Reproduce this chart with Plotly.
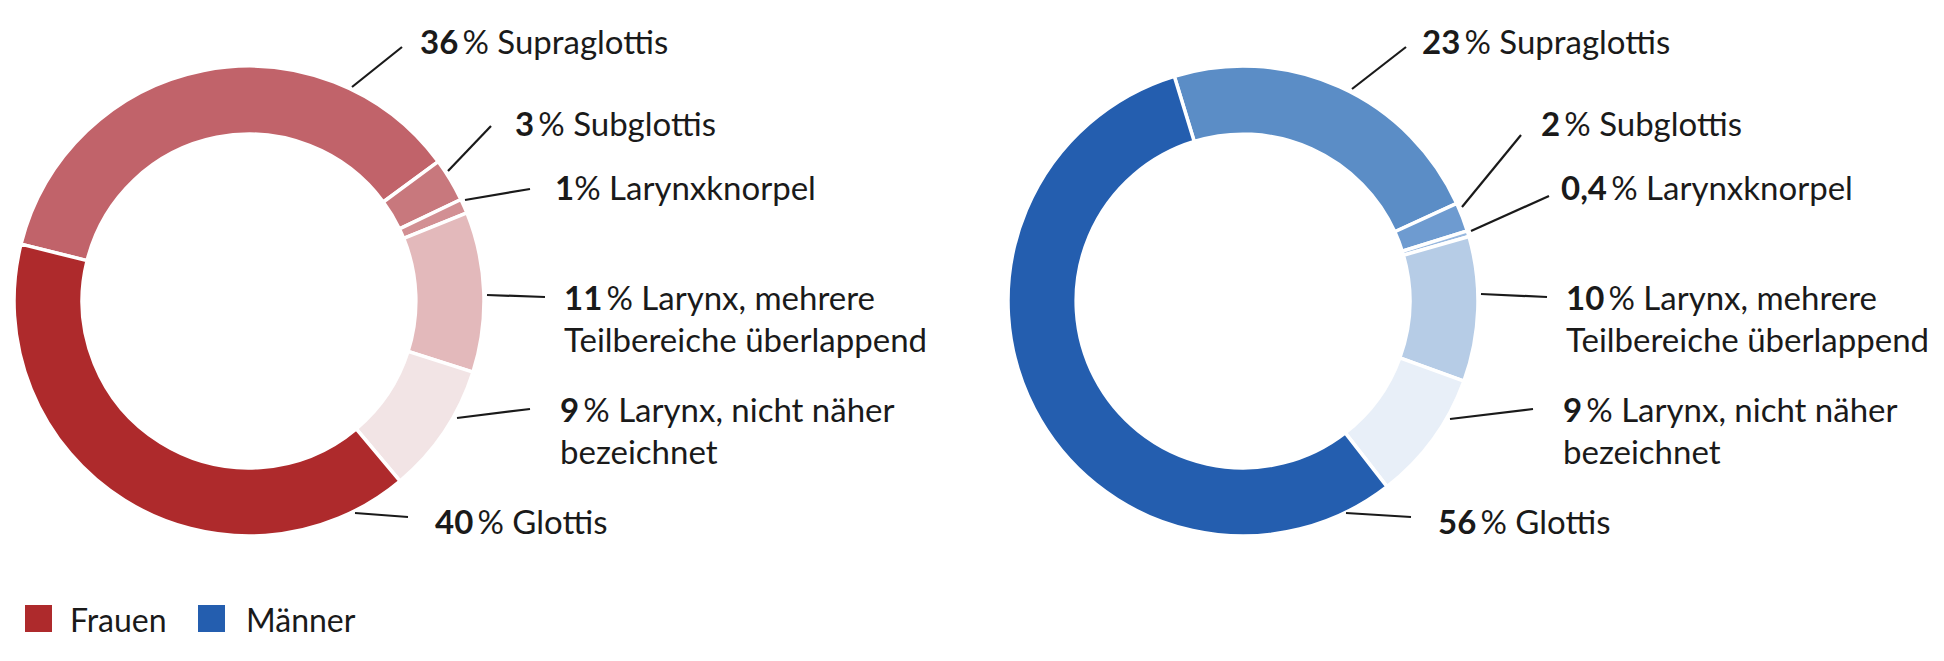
import plotly.graph_objects as go

# ---------------- data ----------------
categories = ["Supraglottis", "Subglottis", "Larynxknorpel",
              "Larynx, mehrere Teilbereiche überlappend",
              "Larynx, nicht näher bezeichnet", "Glottis"]
frauen_values = [36, 3, 1, 11, 9, 40]
maenner_values = [23, 2, 0.4, 10, 9, 56]
frauen_pct_text = ["36", "3", "1", "11", "9", "40"]
maenner_pct_text = ["23", "2", "0,4", "10", "9", "56"]
label_lines = [["Supraglottis"], ["Subglottis"], ["Larynxknorpel"],
               ["Larynx, mehrere", "Teilbereiche überlappend"],
               ["Larynx, nicht näher", "bezeichnet"], ["Glottis"]]
legend_names = ["Frauen", "Männer"]

# ---------------- styles ----------------
PAGE_OFF = 8                      # default page body margin
W, H = 1944 - 2 * PAGE_OFF, 661 - 2 * PAGE_OFF
FONT = "Lato"
FS = 33
FS_LEG = 32
TXT = "#1a1a1a"
frauen_colors = ["#C1636A", "#C8787D", "#D28F93", "#E3B9BB", "#F2E4E5", "#AE2A2C"]
maenner_colors = ["#5B8DC6", "#6E9BD0", "#98B8DF", "#B6CCE6", "#E8EFF8", "#245EAF"]
legend_colors = ["#AE2A2C", "#245EAF"]

R = 235
centers = [(249, 301), (1243, 301)]
rotations = [284, 343]

# label layout (page pixel positions): text left x, first-line centre y
text_pos = [
    [(418, 41), (513, 123), (553, 187), (562, 297), (558, 409), (433, 521)],
    [(1420, 41), (1539, 123), (1559, 187), (1564, 297), (1561, 409), (1436, 521)],
]
# leader lines: (start near donut) -> (end near text)
leader = [
    [((352, 87), (402, 47)), ((448, 171), (491, 126)), ((465, 200), (530, 189)),
     ((487, 295), (545, 297)), ((457, 418), (530, 409)), ((355, 513), (408, 517))],
    [((1352, 89), (1406, 47)), ((1462, 207), (1521, 135)), ((1471, 231), (1549, 196)),
     ((1481, 294), (1547, 297)), ((1450, 419), (1533, 409)), ((1346, 513), (1411, 517))],
]
LINE_H = 42


def px(x):
    return (x - PAGE_OFF) / W


def py(y):
    return 1 - (y - PAGE_OFF) / H


fig = go.Figure()
for i, (vals, cols) in enumerate([(frauen_values, frauen_colors), (maenner_values, maenner_colors)]):
    cx, cy = centers[i]
    fig.add_trace(go.Pie(
        labels=categories, values=vals, sort=False, direction="clockwise",
        rotation=rotations[i], hole=0.71,
        marker=dict(colors=cols, line=dict(color="white", width=3.5)),
        textinfo="none", hoverinfo="label+percent", showlegend=False,
        domain=dict(x=[px(cx - R), px(cx + R)], y=[py(cy + R), py(cy - R)]),
        name=legend_names[i],
    ))

annotations = []
shapes = []
for i, pct in enumerate([frauen_pct_text, maenner_pct_text]):
    for j, cat_lines in enumerate(label_lines):
        tx, ty = text_pos[i][j]
        sp = "" if pct[j] == "1" else "\u2009"
        first = f"<b>{pct[j]}</b>{sp}% {cat_lines[0]}"
        lines = [first] + cat_lines[1:]
        for k, line in enumerate(lines):
            annotations.append(dict(
                x=px(tx), y=py(ty + k * LINE_H), xref="paper", yref="paper",
                text=line, showarrow=False, xanchor="left", yanchor="middle",
                font=dict(family=FONT, size=FS, color=TXT)))
        (x0, y0), (x1, y1) = leader[i][j]
        shapes.append(dict(type="line", xref="paper", yref="paper",
                           x0=px(x0), y0=py(y0), x1=px(x1), y1=py(y1),
                           line=dict(color=TXT, width=2.2)))

# legend
leg_items = [(25, 68), (198, 244)]
for (sx, tx), name, col in zip(leg_items, legend_names, legend_colors):
    shapes.append(dict(type="rect", xref="paper", yref="paper",
                       x0=px(sx), x1=px(sx + 27), y0=py(632), y1=py(605),
                       fillcolor=col, line=dict(width=0)))
    annotations.append(dict(x=px(tx), y=py(619), xref="paper", yref="paper",
                            text=name, showarrow=False, xanchor="left", yanchor="middle",
                            font=dict(family=FONT, size=FS_LEG, color=TXT)))

fig.update_layout(
    width=W, height=H, autosize=False,
    margin=dict(l=0, r=0, t=0, b=0),
    paper_bgcolor="white", plot_bgcolor="white",
    annotations=annotations, shapes=shapes,
)
fig.write_html("out.html")
